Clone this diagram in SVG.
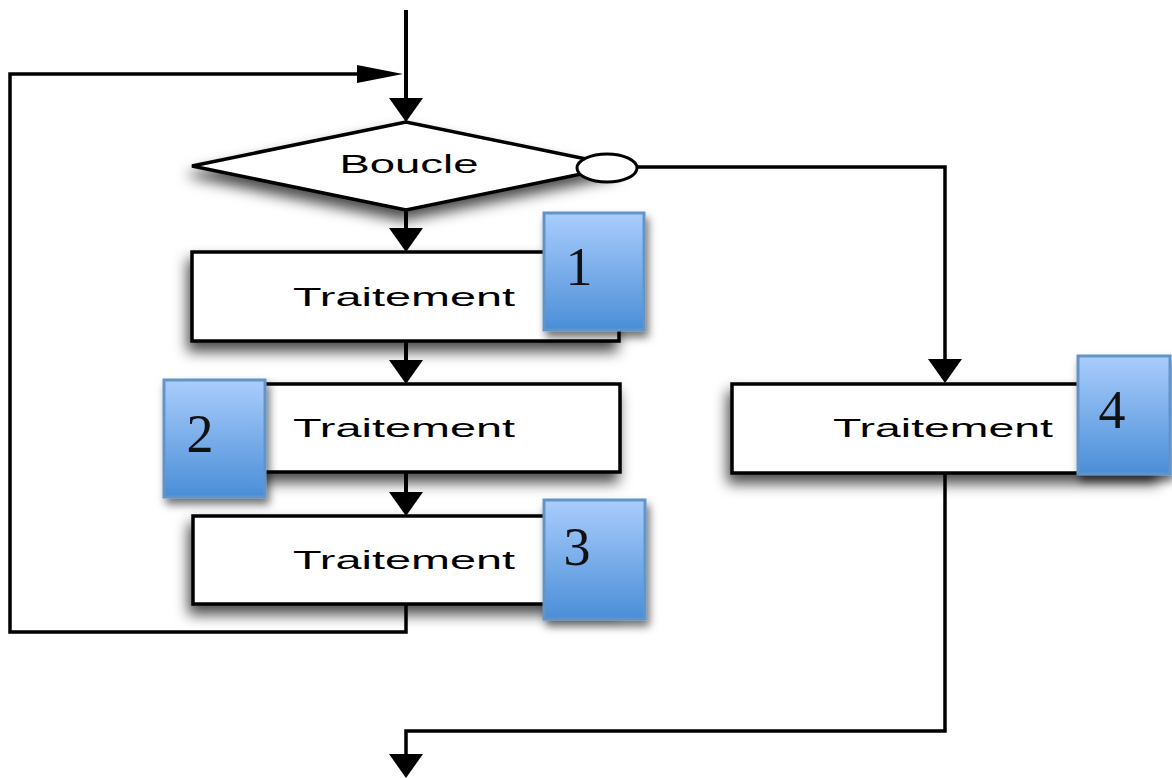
<svg xmlns="http://www.w3.org/2000/svg" width="1172" height="778" viewBox="0 0 1172 778">
  <defs>
    <filter id="shadow" x="-20%" y="-30%" width="140%" height="180%">
      <feDropShadow dx="-3" dy="9" stdDeviation="7" flood-color="#000" flood-opacity="0.7"/>
    </filter>
    <filter id="badgeShadow" x="-20%" y="-20%" width="150%" height="150%">
      <feDropShadow dx="3" dy="6" stdDeviation="4" flood-color="#000" flood-opacity="0.55"/>
    </filter>
    <linearGradient id="badgeFill" x1="0" y1="0" x2="0" y2="1">
      <stop offset="0" stop-color="#aacdfd"/>
      <stop offset="1" stop-color="#4a8ed7"/>
    </linearGradient>
    <marker id="arrow" markerUnits="userSpaceOnUse" viewBox="0 0 24 34" refX="0" refY="17" markerWidth="24" markerHeight="34" orient="auto">
      <path d="M0,0 L24,17 L0,34 z" fill="#000"/>
    </marker>
    <marker id="arrowLong" markerUnits="userSpaceOnUse" viewBox="0 0 46 18" refX="0" refY="9" markerWidth="46" markerHeight="18" orient="auto">
      <path d="M0,0 L46,9 L0,18 z" fill="#000"/>
    </marker>
    <style>
      .box { fill: #fff; stroke: #000; stroke-width: 3.5; }
      .badge { fill: url(#badgeFill); stroke: #6394c8; stroke-width: 3; }
      .label { font-family: "Liberation Sans", Arial, sans-serif; font-size: 25px; fill: #000; text-anchor: middle; }
      .num { font-family: "Liberation Serif", "Times New Roman", serif; font-size: 54px; fill: #111; text-anchor: middle; }
      .wire { fill: none; stroke: #000; stroke-width: 3.5; }
      .wire.main { stroke-width: 4; }
    </style>
  </defs>

  <rect width="1172" height="778" fill="#fff"/>

  <!-- connectors -->
  <g id="connectors">
    <path class="wire main" d="M406,10 V98" marker-end="url(#arrow)"/>
    <path class="wire main" d="M406,210 V228" marker-end="url(#arrow)"/>
    <path class="wire main" d="M406,341 V360" marker-end="url(#arrow)"/>
    <path class="wire main" d="M406,472 V492" marker-end="url(#arrow)"/>
    <path class="wire" d="M406,604 V632 H10 V74 H357" marker-end="url(#arrowLong)"/>
    <path class="wire" d="M637,167 H945 V359" marker-end="url(#arrow)"/>
    <path class="wire" d="M945,473 V731 H406 V754" marker-end="url(#arrow)"/>
  </g>

  <!-- decision -->
  <g id="boucle">
    <polygon class="box" points="192,166 406,122 620,166 406,210" filter="url(#shadow)"/>
    <ellipse cx="607" cy="168" rx="30" ry="14" fill="#fff" stroke="#000" stroke-width="3"/>
    <text class="label" x="409" y="173" font-size="22" textLength="139" lengthAdjust="spacingAndGlyphs">Boucle</text>
  </g>

  <!-- step 1 -->
  <g id="traitement1">
    <rect class="box" x="192" y="252" width="427" height="89" filter="url(#shadow)"/>
    <text class="label" x="404" y="306" textLength="222" lengthAdjust="spacingAndGlyphs">Traitement</text>
    <rect class="badge" x="544" y="213" width="100" height="117" filter="url(#badgeShadow)"/>
    <text class="num" x="579" y="285">1</text>
  </g>

  <!-- step 2 -->
  <g id="traitement2">
    <rect class="box" x="192" y="384" width="428" height="88" filter="url(#shadow)"/>
    <text class="label" x="404" y="437" textLength="222" lengthAdjust="spacingAndGlyphs">Traitement</text>
    <rect class="badge" x="164" y="380" width="101" height="117" filter="url(#badgeShadow)"/>
    <text class="num" x="200" y="452">2</text>
  </g>

  <!-- step 3 -->
  <g id="traitement3">
    <rect class="box" x="193" y="516" width="427" height="88" filter="url(#shadow)"/>
    <text class="label" x="404" y="569" textLength="222" lengthAdjust="spacingAndGlyphs">Traitement</text>
    <rect class="badge" x="544" y="500" width="101" height="119" filter="url(#badgeShadow)"/>
    <text class="num" x="577" y="565">3</text>
  </g>

  <!-- step 4 -->
  <g id="traitement4">
    <rect class="box" x="732" y="384" width="428" height="89" filter="url(#shadow)"/>
    <text class="label" x="943" y="437" textLength="220" lengthAdjust="spacingAndGlyphs">Traitement</text>
    <rect class="badge" x="1078" y="356" width="92" height="118" filter="url(#badgeShadow)"/>
    <text class="num" x="1112" y="428">4</text>
  </g>
</svg>
